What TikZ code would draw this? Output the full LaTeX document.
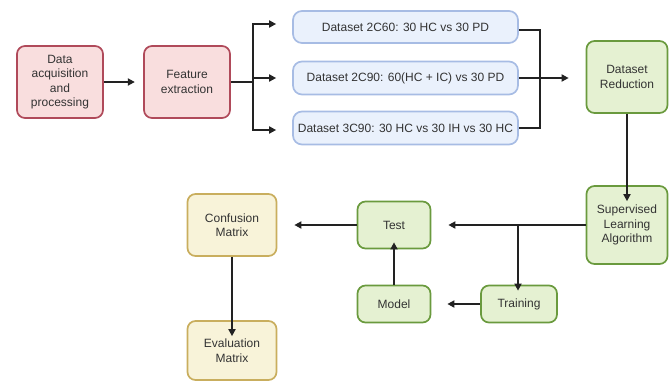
\documentclass[tikz,border=0pt]{standalone}
\usepackage{fontspec}
\setmainfont{Liberation Sans}
\usetikzlibrary{arrows.meta}
\definecolor{redfill}{HTML}{F9DEDE}
\definecolor{reddraw}{HTML}{B04A5A}
\definecolor{bluefill}{HTML}{EAF1FC}
\definecolor{bluedraw}{HTML}{A7BCE4}
\definecolor{greenfill}{HTML}{E5F1D2}
\definecolor{greendraw}{HTML}{6A9A3E}
\definecolor{yelfill}{HTML}{F8F3D9}
\definecolor{yeldraw}{HTML}{C9AE5E}
\definecolor{linec}{HTML}{222222}
\begin{document}
\begin{tikzpicture}[x=1pt,y=-1pt,
  box/.style={rounded corners=8pt, line width=1.7pt, align=center, inner sep=0pt,
    font=\fontsize{12}{14.5}\selectfont, text=black!80},
  redbox/.style={box, fill=redfill, draw=reddraw},
  bluebox/.style={box, fill=bluefill, draw=bluedraw, rounded corners=9pt},
  greenbox/.style={box, fill=greenfill, draw=greendraw},
  yelbox/.style={box, fill=yelfill, draw=yeldraw},
  conn/.style={line width=1.8pt, draw=linec},
  arr/.style={conn, -{Triangle[length=7pt,width=7pt]}}]
\useasboundingbox (0,0) rectangle (671,381);
% nodes
\node[redbox, minimum width=86pt, minimum height=72pt] (acq) at (60,82) {Data\\acquisition\\and\\processing};
\node[redbox, minimum width=86pt, minimum height=72pt] (feat) at (187,82) {Feature\\extraction};
\node[bluebox, minimum width=225pt, minimum height=32pt] (d1) at (405.5,27) {Dataset 2C60: 30 HC vs 30 PD};
\node[bluebox, minimum width=225pt, minimum height=33pt] (d2) at (405.5,78) {Dataset 2C90: 60(HC + IC) vs 30 PD};
\node[bluebox, minimum width=225pt, minimum height=33pt] (d3) at (405.5,128) {Dataset 3C90: 30 HC vs 30 IH vs 30 HC};
\node[greenbox, minimum width=81pt, minimum height=72pt] (red) at (627,77) {Dataset\\Reduction};
\node[greenbox, minimum width=81pt, minimum height=78pt] (sup) at (627,225) {Supervised\\Learning\\Algorithm};
\node[greenbox, minimum width=73pt, minimum height=47pt] (test) at (394,225) {Test};
\node[greenbox, minimum width=76pt, minimum height=37pt] (train) at (519,304) {Training};
\node[greenbox, minimum width=73pt, minimum height=37pt] (model) at (394,304) {Model};
\node[yelbox, minimum width=89pt, minimum height=62pt] (conf) at (232,225) {Confusion\\Matrix};
\node[yelbox, minimum width=89pt, minimum height=59pt] (eval) at (232,350.5) {Evaluation\\Matrix};
% coordinates
\coordinate (fb) at (253,82);
\coordinate (mj) at (540,78);
\coordinate (sj) at (518,225);
% connectors
\draw[arr] (acq.east) -- ++(31,0);
\draw[conn] (feat.east) -- (fb);
\draw[arr] (fb) |- ([xshift=-16pt,yshift=3pt]d1.west);
\draw[arr] (fb) |- ([xshift=-16pt]d2.west);
\draw[arr] (fb) |- ([xshift=-16pt,yshift=-2pt]d3.west);
\draw[conn] ([yshift=-3pt]d1.east) -| (mj);
\draw[conn] (d3.east) -| (mj);
\draw[arr] (d2.east) -- ([xshift=-17pt]d2.east -| red.west);
\draw[arr] (red.south) -- ([yshift=-16pt]sup.north);
\draw[arr] (sup.west) -- ([xshift=17pt]test.east);
\draw[arr] (sj) -- ([yshift=-6pt]train.north -| sj);
\draw[arr] (train.west) -- ([xshift=16pt]model.east);
\draw[arr] (model.north) -- ([yshift=7pt]test.south);
\draw[arr] (test.west) -- ([xshift=17pt]conf.east);
\draw[arr] (conf.south) -- ([yshift=-16pt]eval.north);
\end{tikzpicture}
\end{document}
